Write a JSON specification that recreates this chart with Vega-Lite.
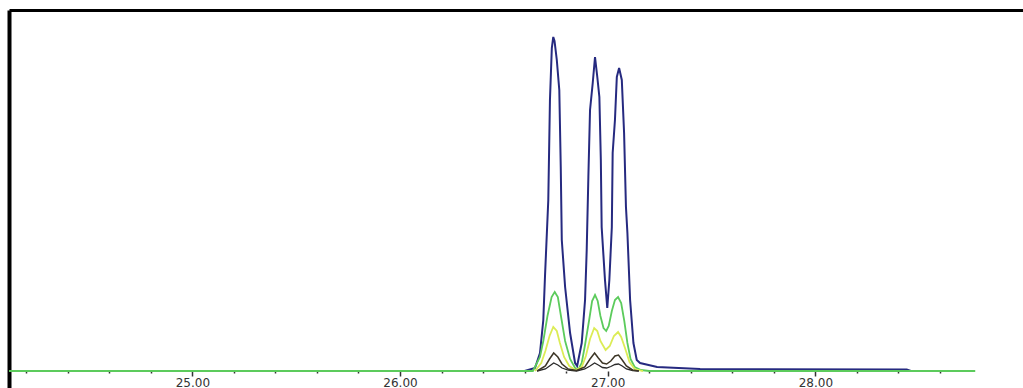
{
  "$schema": "https://vega.github.io/schema/vega-lite/v6.json",
  "width": 1014,
  "height": 378,
  "autosize": {"type": "none"},
  "padding": {"left": 9, "top": 10, "right": 0, "bottom": 0},
  "background": "white",
  "config": {"view": {"stroke": null}},
  "datasets": {
    "traces": [
      {"s": "blue", "t": 24.117, "v": 0}, {"s": "blue", "t": 26.6, "v": 0},
      {"s": "blue", "t": 26.65, "v": 3}, {"s": "blue", "t": 26.674, "v": 18},
      {"s": "blue", "t": 26.69, "v": 51}, {"s": "blue", "t": 26.698, "v": 94},
      {"s": "blue", "t": 26.714, "v": 171}, {"s": "blue", "t": 26.722, "v": 271},
      {"s": "blue", "t": 26.731, "v": 323}, {"s": "blue", "t": 26.738, "v": 334},
      {"s": "blue", "t": 26.744, "v": 330}, {"s": "blue", "t": 26.755, "v": 311},
      {"s": "blue", "t": 26.767, "v": 281}, {"s": "blue", "t": 26.774, "v": 204},
      {"s": "blue", "t": 26.779, "v": 131}, {"s": "blue", "t": 26.795, "v": 84},
      {"s": "blue", "t": 26.819, "v": 38}, {"s": "blue", "t": 26.843, "v": 8},
      {"s": "blue", "t": 26.853, "v": 5}, {"s": "blue", "t": 26.875, "v": 28},
      {"s": "blue", "t": 26.891, "v": 71}, {"s": "blue", "t": 26.899, "v": 121},
      {"s": "blue", "t": 26.907, "v": 194}, {"s": "blue", "t": 26.915, "v": 261},
      {"s": "blue", "t": 26.928, "v": 288}, {"s": "blue", "t": 26.939, "v": 314},
      {"s": "blue", "t": 26.95, "v": 294}, {"s": "blue", "t": 26.96, "v": 274},
      {"s": "blue", "t": 26.967, "v": 211}, {"s": "blue", "t": 26.971, "v": 144},
      {"s": "blue", "t": 26.987, "v": 91}, {"s": "blue", "t": 26.998, "v": 63},
      {"s": "blue", "t": 27.008, "v": 91}, {"s": "blue", "t": 27.02, "v": 144},
      {"s": "blue", "t": 27.024, "v": 218}, {"s": "blue", "t": 27.035, "v": 251},
      {"s": "blue", "t": 27.044, "v": 294}, {"s": "blue", "t": 27.055, "v": 303},
      {"s": "blue", "t": 27.068, "v": 291}, {"s": "blue", "t": 27.079, "v": 238},
      {"s": "blue", "t": 27.088, "v": 164}, {"s": "blue", "t": 27.095, "v": 138},
      {"s": "blue", "t": 27.108, "v": 71}, {"s": "blue", "t": 27.124, "v": 28},
      {"s": "blue", "t": 27.14, "v": 11}, {"s": "blue", "t": 27.156, "v": 8},
      {"s": "blue", "t": 27.238, "v": 4}, {"s": "blue", "t": 27.445, "v": 2},
      {"s": "blue", "t": 28.44, "v": 1.5}, {"s": "blue", "t": 28.46, "v": 0},

      {"s": "green", "t": 24.117, "v": 0}, {"s": "green", "t": 26.64, "v": 0},
      {"s": "green", "t": 26.674, "v": 14}, {"s": "green", "t": 26.69, "v": 30},
      {"s": "green", "t": 26.71, "v": 55}, {"s": "green", "t": 26.73, "v": 74},
      {"s": "green", "t": 26.745, "v": 79}, {"s": "green", "t": 26.76, "v": 74},
      {"s": "green", "t": 26.775, "v": 55}, {"s": "green", "t": 26.795, "v": 30},
      {"s": "green", "t": 26.819, "v": 12}, {"s": "green", "t": 26.843, "v": 3},
      {"s": "green", "t": 26.86, "v": 2}, {"s": "green", "t": 26.875, "v": 8},
      {"s": "green", "t": 26.89, "v": 25}, {"s": "green", "t": 26.91, "v": 50},
      {"s": "green", "t": 26.925, "v": 70}, {"s": "green", "t": 26.939, "v": 76},
      {"s": "green", "t": 26.952, "v": 70}, {"s": "green", "t": 26.965, "v": 55},
      {"s": "green", "t": 26.98, "v": 43}, {"s": "green", "t": 26.993, "v": 40},
      {"s": "green", "t": 27.005, "v": 45}, {"s": "green", "t": 27.02, "v": 60},
      {"s": "green", "t": 27.035, "v": 71}, {"s": "green", "t": 27.05, "v": 74},
      {"s": "green", "t": 27.065, "v": 68}, {"s": "green", "t": 27.08, "v": 50},
      {"s": "green", "t": 27.095, "v": 28}, {"s": "green", "t": 27.11, "v": 12},
      {"s": "green", "t": 27.13, "v": 4}, {"s": "green", "t": 27.16, "v": 1},
      {"s": "green", "t": 27.2, "v": 0}, {"s": "green", "t": 28.77, "v": 0},

      {"s": "yellow", "t": 26.65, "v": 0}, {"s": "yellow", "t": 26.68, "v": 8},
      {"s": "yellow", "t": 26.7, "v": 20}, {"s": "yellow", "t": 26.72, "v": 35},
      {"s": "yellow", "t": 26.738, "v": 44}, {"s": "yellow", "t": 26.755, "v": 40},
      {"s": "yellow", "t": 26.77, "v": 28}, {"s": "yellow", "t": 26.79, "v": 14},
      {"s": "yellow", "t": 26.815, "v": 5}, {"s": "yellow", "t": 26.845, "v": 1},
      {"s": "yellow", "t": 26.875, "v": 4}, {"s": "yellow", "t": 26.895, "v": 15},
      {"s": "yellow", "t": 26.915, "v": 32}, {"s": "yellow", "t": 26.935, "v": 43},
      {"s": "yellow", "t": 26.95, "v": 40}, {"s": "yellow", "t": 26.965, "v": 30},
      {"s": "yellow", "t": 26.99, "v": 21}, {"s": "yellow", "t": 27.01, "v": 25},
      {"s": "yellow", "t": 27.03, "v": 35}, {"s": "yellow", "t": 27.05, "v": 39},
      {"s": "yellow", "t": 27.065, "v": 34}, {"s": "yellow", "t": 27.085, "v": 22},
      {"s": "yellow", "t": 27.105, "v": 9}, {"s": "yellow", "t": 27.13, "v": 2},
      {"s": "yellow", "t": 27.17, "v": 0},

      {"s": "dark2", "t": 26.66, "v": 0}, {"s": "dark2", "t": 26.7, "v": 2},
      {"s": "dark2", "t": 26.72, "v": 5}, {"s": "dark2", "t": 26.74, "v": 8},
      {"s": "dark2", "t": 26.76, "v": 6}, {"s": "dark2", "t": 26.78, "v": 3},
      {"s": "dark2", "t": 26.81, "v": 1}, {"s": "dark2", "t": 26.85, "v": 0},
      {"s": "dark2", "t": 26.89, "v": 2}, {"s": "dark2", "t": 26.915, "v": 5},
      {"s": "dark2", "t": 26.937, "v": 8}, {"s": "dark2", "t": 26.955, "v": 6},
      {"s": "dark2", "t": 26.975, "v": 3.5}, {"s": "dark2", "t": 26.995, "v": 3},
      {"s": "dark2", "t": 27.015, "v": 4.5}, {"s": "dark2", "t": 27.035, "v": 6.5},
      {"s": "dark2", "t": 27.052, "v": 7}, {"s": "dark2", "t": 27.07, "v": 5},
      {"s": "dark2", "t": 27.09, "v": 2}, {"s": "dark2", "t": 27.12, "v": 0.5},
      {"s": "dark2", "t": 27.15, "v": 0},

      {"s": "dark1", "t": 26.66, "v": 0}, {"s": "dark1", "t": 26.7, "v": 5},
      {"s": "dark1", "t": 26.72, "v": 12}, {"s": "dark1", "t": 26.74, "v": 18},
      {"s": "dark1", "t": 26.76, "v": 14}, {"s": "dark1", "t": 26.78, "v": 7},
      {"s": "dark1", "t": 26.81, "v": 2}, {"s": "dark1", "t": 26.85, "v": 0.5},
      {"s": "dark1", "t": 26.89, "v": 4}, {"s": "dark1", "t": 26.915, "v": 12},
      {"s": "dark1", "t": 26.937, "v": 18}, {"s": "dark1", "t": 26.955, "v": 13},
      {"s": "dark1", "t": 26.975, "v": 8}, {"s": "dark1", "t": 26.995, "v": 7},
      {"s": "dark1", "t": 27.015, "v": 10}, {"s": "dark1", "t": 27.035, "v": 15},
      {"s": "dark1", "t": 27.052, "v": 16}, {"s": "dark1", "t": 27.07, "v": 11},
      {"s": "dark1", "t": 27.09, "v": 5}, {"s": "dark1", "t": 27.12, "v": 1},
      {"s": "dark1", "t": 27.15, "v": 0}
    ]
  },
  "data": {"name": "traces"},
  "encoding": {
    "x": {
      "field": "t", "type": "quantitative",
      "scale": {"domain": [24.117, 29.0], "nice": false, "zero": false},
      "axis": {
        "orient": "bottom",
        "offset": -17,
        "title": null,
        "domain": false,
        "grid": false,
        "values": [24.2, 24.4, 24.6, 24.8, 25, 25.2, 25.4, 25.6, 25.8, 26, 26.2, 26.4, 26.6, 26.8, 27, 27.2, 27.4, 27.6, 27.8, 28, 28.2, 28.4, 28.6],
        "labelExpr": "abs(datum.value - round(datum.value)) < 0.01 ? format(datum.value, '.2f') : ''",
        "labelOverlap": false,
        "labelFlush": false,
        "labelFont": "DejaVu Sans",
        "labelFontSize": 12,
        "labelColor": "#333333",
        "labelPadding": 1,
        "tickColor": "#333333",
        "tickWidth": 1.5,
        "tickSize": {"condition": {"test": "abs(datum.value - round(datum.value)) < 0.01", "value": 5}, "value": 2}
      }
    },
    "y": {
      "field": "v", "type": "quantitative",
      "scale": {"domain": [-17, 361], "nice": false, "zero": false},
      "axis": {
        "title": null,
        "labels": false,
        "ticks": false,
        "domain": true,
        "domainColor": "black",
        "domainWidth": 4,
        "grid": true,
        "values": [361],
        "gridColor": "black",
        "gridWidth": 3,
        "gridOpacity": 1
      }
    }
  },
  "layer": [
    {"transform": [{"filter": "datum.s == 'blue'"}], "mark": {"type": "line", "color": "#262a80", "strokeWidth": 2}},
    {"transform": [{"filter": "datum.s == 'green'"}], "mark": {"type": "line", "color": "#5ccb5c", "strokeWidth": 1.8}},
    {"transform": [{"filter": "datum.s == 'yellow'"}], "mark": {"type": "line", "color": "#dcec55", "strokeWidth": 1.8}},
    {"transform": [{"filter": "datum.s == 'dark2'"}], "mark": {"type": "line", "color": "#2a2a2a", "strokeWidth": 1.3}},
    {"transform": [{"filter": "datum.s == 'dark1'"}], "mark": {"type": "line", "color": "#3d3626", "strokeWidth": 1.5}}
  ]
}
